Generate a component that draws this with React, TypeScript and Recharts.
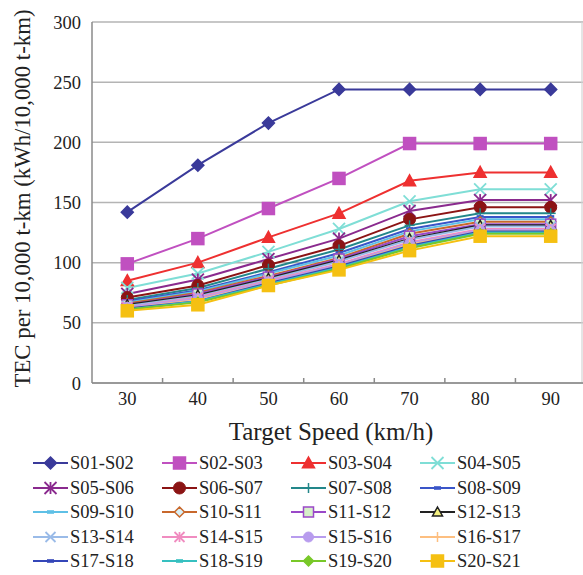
import React from 'react';
import { LineChart, Line, XAxis, YAxis, CartesianGrid, Legend, Label } from 'recharts';

const speeds = [30, 40, 50, 60, 70, 80, 90];

const seriesNames = [
  'S01-S02', 'S02-S03', 'S03-S04', 'S04-S05',
  'S05-S06', 'S06-S07', 'S07-S08', 'S08-S09',
  'S09-S10', 'S10-S11', 'S11-S12', 'S12-S13',
  'S13-S14', 'S14-S15', 'S15-S16', 'S16-S17',
  'S17-S18', 'S18-S19', 'S19-S20', 'S20-S21',
];

// TEC per 10,000 t-km, one row per section, columns follow speeds
const seriesValues = [
  [142, 181, 216, 244, 244, 244, 244],
  [99, 120, 145, 170, 199, 199, 199],
  [85, 100, 121, 141, 168, 175, 175],
  [79, 91, 109, 128, 151, 161, 161],
  [74, 86, 103, 120, 143, 152, 152],
  [71, 81, 98, 114, 136, 146, 146],
  [69, 79, 95, 111, 131, 141, 141],
  [68, 77, 92, 108, 128, 138, 138],
  [67, 76, 91, 106, 126, 136, 136],
  [66, 75, 89, 104, 124, 134, 134],
  [65, 74, 88, 103, 122, 132, 132],
  [65, 73, 87, 102, 120, 131, 131],
  [64, 72, 86, 101, 119, 130, 130],
  [63, 71, 85, 99, 117, 128, 128],
  [63, 70, 84, 98, 116, 127, 127],
  [62, 69, 83, 97, 115, 126, 126],
  [62, 68, 83, 97, 114, 126, 126],
  [61, 68, 82, 96, 113, 125, 125],
  [61, 67, 81, 95, 112, 124, 124],
  [60, 65, 81, 94, 110, 122, 122],
];

const seriesColors = [
  '#3a3a9a', '#c050c0', '#ee3030', '#7fded6',
  '#8a2a8e', '#8b1414', '#23878a', '#3a55c8',
  '#5ec0e6', '#c8682c', '#9a48c8', '#222222',
  '#9abbe8', '#f08cc0', '#b89cee', '#fdbf80',
  '#3446b8', '#36c0c0', '#78c828', '#f5c012',
];

const markerShapes = [
  'diamond', 'square', 'triangle', 'x',
  'star', 'circle', 'plus', 'dash',
  'dash', 'diamond', 'square', 'triangle',
  'x', 'star', 'circle', 'plus',
  'dash', 'dash', 'diamond', 'square',
];

const markerFills = [
  null, null, null, null,
  null, null, null, null,
  null, '#d8f0f8', '#d6f0c8', '#f4f080',
  null, null, null, null,
  null, null, null, null,
];

const yTicks = [0, 50, 100, 150, 200, 250, 300];

const data = speeds.map((sp, i) => {
  const row: any = { speed: sp };
  seriesNames.forEach((name, k) => {
    row[name] = seriesValues[k][i];
  });
  return row;
});

const FONT = '"Liberation Serif", "Times New Roman", serif';
const CHART_W = 590;
const PLOT_LEFT = 92;
const PLOT_RIGHT = 586;
const BAND = (PLOT_RIGHT - PLOT_LEFT) / speeds.length;

function Marker({ cx, cy, k }: { cx: number; cy: number; k: number }) {
  const shape = markerShapes[k];
  const color = seriesColors[k];
  const fill = markerFills[k] || color;
  const big = k < 6 || k === 19;
  const r = big ? 6 : 5;
  switch (shape) {
    case 'diamond':
      return <polygon points={`${cx},${cy - r} ${cx + r},${cy} ${cx},${cy + r} ${cx - r},${cy}`} fill={fill} stroke={color} strokeWidth={1.5} />;
    case 'square':
      return <rect x={cx - r} y={cy - r} width={2 * r} height={2 * r} fill={fill} stroke={color} strokeWidth={1.5} />;
    case 'triangle':
      return <polygon points={`${cx},${cy - r} ${cx + r},${cy + r * 0.8} ${cx - r},${cy + r * 0.8}`} fill={fill} stroke={color} strokeWidth={1.5} />;
    case 'circle':
      return <circle cx={cx} cy={cy} r={r} fill={fill} stroke={color} strokeWidth={1} />;
    case 'x':
      return (
        <g stroke={color} strokeWidth={1.8}>
          <line x1={cx - r} y1={cy - r} x2={cx + r} y2={cy + r} />
          <line x1={cx - r} y1={cy + r} x2={cx + r} y2={cy - r} />
        </g>
      );
    case 'star':
      return (
        <g stroke={color} strokeWidth={1.8}>
          <line x1={cx - r} y1={cy - r} x2={cx + r} y2={cy + r} />
          <line x1={cx - r} y1={cy + r} x2={cx + r} y2={cy - r} />
          <line x1={cx} y1={cy - r} x2={cx} y2={cy + r} />
        </g>
      );
    case 'plus':
      return (
        <g stroke={color} strokeWidth={1.5}>
          <line x1={cx - r} y1={cy} x2={cx + r} y2={cy} />
          <line x1={cx} y1={cy - r} x2={cx} y2={cy + r} />
        </g>
      );
    default:
      return <rect x={cx - 3.5} y={cy - 1.8} width={7} height={3.6} fill={color} />;
  }
}

const XTick = (props: any) => {
  const { x, y, payload } = props;
  return (
    <g>
      <text x={x} y={y + 22} textAnchor="middle" fontFamily={FONT} fontSize={18.5} fill="#222">
        {payload.value}
      </text>
      <line x1={x + BAND / 2} x2={x + BAND / 2} y1={y} y2={y - 5} stroke="#8a8a8a" strokeWidth={1.5} />
    </g>
  );
};

const YTitle = (props: any) => {
  const vb = props.viewBox || { x: 0, y: 22, height: 361 };
  const cx = vb.x + 22;
  const cy = vb.y + vb.height / 2 - 4;
  return (
    <text
      x={cx}
      y={cy}
      transform={`rotate(-90, ${cx}, ${cy})`}
      textAnchor="middle"
      dominantBaseline="central"
      fontFamily={FONT}
      fontSize={22.8}
      fill="#222"
    >
      TEC per 10,000 t-km (kWh/10,000 t-km)
    </text>
  );
};

function LegendGrid() {
  return (
    <div
      style={{
        height: 127,
        boxSizing: 'border-box',
        paddingLeft: 33,
        paddingTop: 3,
        display: 'grid',
        gridTemplateColumns: 'repeat(4, 129px)',
        gridAutoRows: '24.5px',
      }}
    >
      {seriesNames.map((name, k) => (
        <div key={name} style={{ display: 'flex', alignItems: 'center' }}>
          <svg width={37} height={20} style={{ flex: 'none' }}>
            <line x1={0} x2={35} y1={10} y2={10} stroke={seriesColors[k]} strokeWidth={2} />
            <Marker cx={17.5} cy={10} k={k} />
          </svg>
          <span style={{ fontFamily: FONT, fontSize: 18.5, color: '#222', lineHeight: 1, whiteSpace: 'nowrap' }}>
            {name}
          </span>
        </div>
      ))}
    </div>
  );
}

export default function App() {
  return (
    <div style={{ position: 'absolute', left: 0, top: 0, width: 583, height: 575, overflow: 'hidden', background: '#fff' }}>
      <LineChart
        width={CHART_W}
        height={575}
        data={data}
        margin={{ top: 22, right: CHART_W - PLOT_RIGHT, bottom: 0, left: 0 }}
      >
        <CartesianGrid vertical={false} stroke="#b4b4b4" strokeWidth={1.5} />
        <CartesianGrid horizontal={false} verticalPoints={[582]} stroke="#d4d4d4" strokeWidth={1.2} />
        <XAxis
          dataKey="speed"
          height={65}
          padding={{ left: BAND / 2, right: BAND / 2 }}
          axisLine={{ stroke: '#8a8a8a', strokeWidth: 1.5 }}
          tickLine={false}
          tickSize={0}
          tickMargin={0}
          tick={<XTick />}
          interval={0}
        >
          <Label
            value="Target Speed (km/h)"
            position="insideBottom"
            offset={8}
            dx={-8}
            style={{ fontFamily: FONT, fontSize: 25, fill: '#222' }}
          />
        </XAxis>
        <YAxis
          width={PLOT_LEFT}
          domain={[0, 300]}
          ticks={yTicks}
          interval={0}
          axisLine={{ stroke: '#8a8a8a', strokeWidth: 1.5 }}
          tickLine={false}
          tickSize={0}
          tickMargin={11}
          tick={{ fontFamily: FONT, fontSize: 18.5, fill: '#222' }}
          label={<YTitle />}
        />
        <Legend
          verticalAlign="bottom"
          content={() => <LegendGrid />}
          wrapperStyle={{ left: 0, width: CHART_W, bottom: 0 }}
        />
        {seriesNames.map((name, k) => (
          <Line
            key={name}
            dataKey={name}
            type="linear"
            stroke={seriesColors[k]}
            strokeWidth={2}
            isAnimationActive={false}
            dot={(p: any) => <Marker key={`${name}-${p.index}`} cx={p.cx} cy={p.cy} k={k} />}
            activeDot={false}
          />
        ))}
      </LineChart>
    </div>
  );
}
